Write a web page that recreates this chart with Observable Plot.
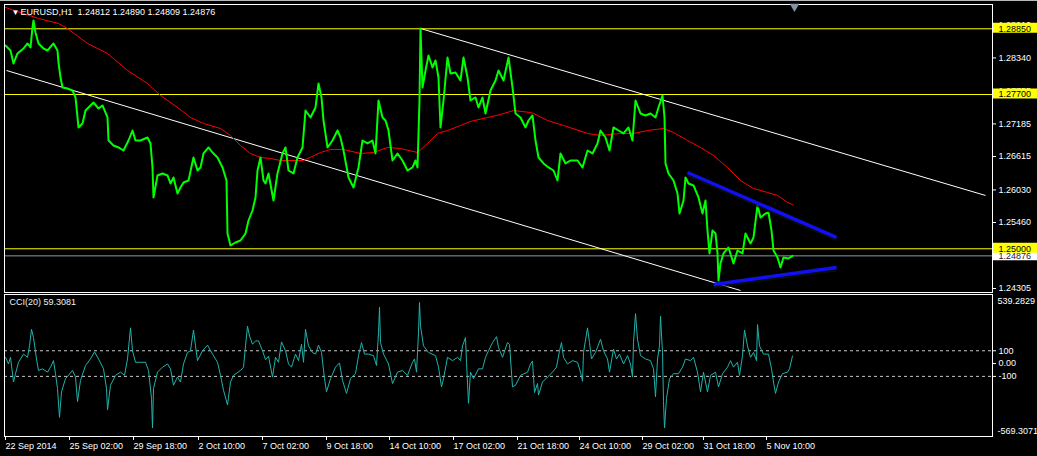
<!DOCTYPE html>
<html>
<head>
<meta charset="utf-8">
<script src="https://cdn.jsdelivr.net/npm/d3@7"></script>
<script src="https://cdn.jsdelivr.net/npm/@observablehq/plot@0.6"></script>
<style>
html, body { margin: 0; padding: 0; background: #000; }
#chart { position: relative; width: 1037px; height: 456px; background: #000; overflow: hidden; }
#chart svg { position: absolute; left: 0; display: block; }
#topline { position: absolute; left: 0; top: 0; width: 1037px; height: 1px; background: #b8b8b8; }
</style>
</head>
<body>
<div id="chart"><div id="topline"></div></div>
<script>
// ---------- header ----------
const symbol = "EURUSD,H1";
const ohlc = [1.24812, 1.24890, 1.24809, 1.24876];

// ---------- price (H1 bars, bar 0 = 22 Sep 2014) ----------
const priceBars = [0,5,8,12,18,22,25,27,28,30,33,38,42,48,52,53,55,57,62,67,70,73,77,80,83,88,93,97,102,103,108,113,118,123,127,130,135,142,145,147,148,152,157,162,165,168,172,175,178,183,188,192,195,198,203,207,212,217,221,222,225,230,235,240,243,247,250,252,255,258,260,263,268,272,277,280,283,288,292,297,300,305,310,313,316,318,322,327,332,335,338,343,348,353,357,362,367,370,373,377,380,383,387,392,397,402,407,410,412,414,415,417,420,423,427,430,433,435,438,442,445,450,455,458,462,465,470,473,477,480,485,490,493,498,503,507,510,515,520,523,527,530,533,538,543,548,552,555,560,565,572,577,582,587,592,595,600,604,608,613,618,623,627,630,635,640,645,650,653,657,659,660,663,668,672,674,678,680,683,688,693,697,700,702,704,707,710,712,713,715,718,723,728,732,737,740,745,748,752,755,760,763,766,768,772,775,778,783,787];
const priceClose = [1.28558,1.2847,1.28243,1.28418,1.28505,1.28593,1.28523,1.28873,1.28995,1.28785,1.28593,1.28505,1.2847,1.28593,1.2847,1.2826,1.27998,1.27823,1.27805,1.2777,1.27648,1.27123,1.27193,1.2742,1.27473,1.2756,1.27455,1.27508,1.27298,1.26895,1.26808,1.26773,1.2672,1.26895,1.2707,1.26895,1.26895,1.26948,1.26843,1.26423,1.25898,1.26283,1.26318,1.26283,1.26143,1.26248,1.25968,1.26073,1.2616,1.26195,1.26598,1.2637,1.26423,1.26668,1.26773,1.26685,1.26598,1.26423,1.26195,1.25268,1.25058,1.2511,1.25145,1.25268,1.25495,1.2567,1.25898,1.2637,1.26598,1.26195,1.26143,1.26318,1.25845,1.26318,1.26668,1.26773,1.2637,1.26318,1.26598,1.26773,1.2742,1.27298,1.27473,1.27893,1.27648,1.27245,1.26773,1.26895,1.2707,1.26948,1.2672,1.26248,1.26073,1.26423,1.26895,1.26843,1.26895,1.26668,1.27595,1.27298,1.27245,1.2707,1.26545,1.26668,1.26545,1.2637,1.26423,1.26545,1.26423,1.27595,1.28855,1.27823,1.2812,1.28383,1.28173,1.28295,1.27998,1.27123,1.27595,1.28348,1.28068,1.28085,1.27945,1.28348,1.27998,1.27595,1.27648,1.27473,1.27648,1.27368,1.2777,1.27945,1.2812,1.27945,1.28348,1.27823,1.27368,1.27298,1.27123,1.27245,1.27333,1.26895,1.26598,1.26493,1.26423,1.2637,1.26195,1.26668,1.26493,1.26545,1.26545,1.26423,1.2672,1.26668,1.26843,1.2707,1.26948,1.2672,1.27123,1.2707,1.27018,1.27123,1.26895,1.27595,1.27368,1.27333,1.27368,1.27298,1.27473,1.27683,1.27298,1.26493,1.26318,1.26195,1.25968,1.25618,1.25845,1.26248,1.26143,1.26108,1.25898,1.25618,1.25845,1.2532,1.24918,1.2532,1.25268,1.24918,1.24445,1.24743,1.24918,1.25023,1.24743,1.2497,1.24918,1.25268,1.25093,1.25198,1.25758,1.25548,1.25618,1.25635,1.2532,1.2497,1.24848,1.24673,1.24848,1.2483,1.24876];

// ---------- moving average (red) ----------
const maBars = [0,33,53,62,82,102,122,142,155,172,185,198,215,225,235,245,255,265,275,298,315,325,338,355,368,382,395,412,422,432,442,455,465,482,495,508,525,528,542,558,582,595,615,628,642,658,668,682,695,708,722,735,748,762,772,782,787];
const maValues = [1.29223,1.2903,1.28943,1.28855,1.28593,1.28418,1.2812,1.27893,1.27683,1.27473,1.27298,1.27193,1.27105,1.26983,1.26808,1.26668,1.26598,1.2658,1.26545,1.26545,1.26685,1.26738,1.26738,1.26668,1.26685,1.26773,1.26755,1.26685,1.26843,1.27018,1.2707,1.27158,1.27228,1.27298,1.2735,1.2742,1.27385,1.27368,1.27245,1.27158,1.27018,1.26983,1.27018,1.27018,1.2707,1.27105,1.27035,1.26895,1.26773,1.26633,1.26423,1.26195,1.26055,1.25985,1.25933,1.2581,1.25775];

// ---------- drawn objects ----------
// [bar1, price1, bar2, price2]
const channelLines = [[1, 1.2812, 735, 1.2427], [415, 1.28855, 980, 1.25933]];
const triangleLines = [[682, 1.26335, 831, 1.25198], [708, 1.24375, 831, 1.24673]];
const levelPrices = [1.28850, 1.27700, 1.25000];
const bidPrice = 1.24876;
const shiftBar = 789;

// ---------- price axis ----------
const priceDomain = [1.24235, 1.29275];
const priceTicks = [1.28910, 1.28340, 1.27755, 1.27185, 1.26615, 1.26030, 1.25460, 1.24890, 1.24305];

// ---------- CCI(20) ----------
const cciPeriod = 20;
const cciLast = 59.3081;
const cciRange = [-569.3071, 539.2829];
const cciLevels = [100, -100];
const cciTicks = [100, 0, -100];
const cciBars = [0,3,5,8,10,13,18,22,24,26,28,31,33,37,42,45,48,50,52,54,56,60,67,70,72,75,80,85,89,93,98,101,102,105,110,115,119,122,125,127,130,135,140,143,146,147,148,152,157,162,165,168,172,175,178,182,185,188,190,192,197,202,207,212,215,218,222,225,228,235,238,240,242,244,247,250,253,257,260,263,267,270,273,276,280,283,286,290,293,296,298,300,303,307,310,313,316,319,321,325,330,334,337,341,345,350,353,356,359,363,368,371,373,374,375,378,383,387,392,397,402,407,409,411,413,414,415,418,423,430,433,436,438,442,447,452,455,457,460,461,463,465,468,473,477,480,483,487,491,493,497,502,504,507,510,515,522,525,527,529,532,533,537,542,547,551,554,556,558,562,567,572,575,577,578,582,584,586,590,595,598,602,604,608,611,614,618,622,625,627,628,630,632,635,640,645,648,650,652,654,655,657,658,659,661,664,668,673,677,680,685,688,692,695,698,702,705,710,713,717,722,725,728,732,734,737,739,742,745,748,751,752,754,758,763,766,768,770,773,777,782,784,787];
const cciValues = [49,-3,49,-144,-79,10,74,49,138,267,203,36,-54,-41,-67,-28,23,-79,-195,-420,-220,-118,-54,-105,-297,-131,-15,36,92,36,-41,-195,-361,-169,-92,-67,-92,36,279,100,10,10,10,-54,-272,-503,-195,-67,-28,-3,-41,-169,-105,-144,-3,87,100,262,138,23,100,144,74,10,-92,-208,-323,-144,-92,-54,-28,138,292,215,151,177,177,100,30,58,-105,49,10,169,100,-3,-28,74,23,151,10,267,138,87,74,144,87,-118,-220,-118,-28,5,-131,-233,-118,-79,62,164,74,74,62,-15,241,441,164,74,-3,-156,-67,-54,-92,10,36,-67,241,477,292,138,87,62,-28,-182,-118,49,23,49,23,138,203,10,-310,-67,-118,-41,-41,49,100,164,210,126,49,164,151,-182,-169,-92,-67,-3,20,-226,-156,-246,-144,-105,-67,-28,100,164,49,-3,23,10,-67,-138,87,279,164,36,87,190,100,36,-67,113,36,74,-3,62,-3,-105,164,390,190,62,36,23,-41,-259,36,138,369,87,-297,-503,-272,-118,-79,-79,-28,36,23,49,-67,-220,-67,-220,-92,-67,-182,-79,-28,23,-28,10,-92,62,262,138,49,87,23,305,138,74,74,-41,-144,-233,-144,-79,-67,-41,59.3081];

// ---------- time axis ----------
const tickBars = [0, 64, 128, 193, 257, 321, 384, 448, 512, 574, 637, 698, 761];
const tickLabels = ["22 Sep 2014", "25 Sep 02:00", "29 Sep 18:00", "2 Oct 10:00", "7 Oct 02:00", "9 Oct 18:00", "14 Oct 10:00", "17 Oct 02:00", "21 Oct 18:00", "24 Oct 10:00", "29 Oct 02:00", "31 Oct 18:00", "5 Nov 10:00"];

// ---------- build ----------
const xDomain = [-1, 987];
const font = {background: "transparent", color: "#ffffff", fontFamily: "'Liberation Sans', Arial, sans-serif", fontSize: "9px"};
const priceData = priceBars.map((b, i) => ({bar: b, price: priceClose[i]}));
const maData = maBars.map((b, i) => ({bar: b, price: maValues[i]}));
const cciData = cciBars.map((b, i) => ({bar: b, cci: cciValues[i]}));
const boxX1 = 988, boxX2 = 1032;
const headerText = symbol + "\u00a0\u00a0" + ohlc.map(d => d.toFixed(5)).join(" ");

const main = Plot.plot({
  width: 1037, height: 294,
  marginTop: 4, marginBottom: 2, marginLeft: 4, marginRight: 45,
  x: {domain: xDomain, axis: null},
  y: {domain: priceDomain, axis: null},
  style: font,
  marks: [
    Plot.ruleY(levelPrices, {stroke: "#ffff00", strokeWidth: 1}),
    Plot.ruleY([bidPrice], {stroke: "#8e98a3", strokeWidth: 1}),
    Plot.link(channelLines, {x1: d => d[0], y1: d => d[1], x2: d => d[2], y2: d => d[3], stroke: "#ffffff", strokeWidth: 1}),
    Plot.line(maData, {x: "bar", y: "price", stroke: "#ff0000", strokeWidth: 1}),
    Plot.line(priceData, {x: "bar", y: "price", stroke: "#00ff00", strokeWidth: 2}),
    Plot.link(triangleLines, {x1: d => d[0], y1: d => d[1], x2: d => d[2], y2: d => d[3], stroke: "#101010", strokeWidth: 4, dy: 2, strokeOpacity: 0.7}),
    Plot.link(triangleLines, {x1: d => d[0], y1: d => d[1], x2: d => d[2], y2: d => d[3], stroke: "#1010f0", strokeWidth: 3.5}),
    Plot.frame({stroke: "#ffffff"}),
    Plot.axisY({anchor: "right", ticks: priceTicks, tickFormat: d => d.toFixed(5), tickSize: 3, tickPadding: 3, label: null}),
    Plot.ruleY([bidPrice], {x1: boxX1, x2: boxX2, stroke: "#ffffff", strokeWidth: 9}),
    Plot.text([bidPrice], {x: boxX1 + 5, y: d => d, text: d => d.toFixed(5), fill: "#1c2040", textAnchor: "start"}),
    Plot.ruleY(levelPrices, {x1: boxX1, x2: boxX2, stroke: "#ffff00", strokeWidth: 10, dy: -1}),
    Plot.text(levelPrices, {x: boxX1 + 5, y: d => d, text: d => d.toFixed(5), fill: "#000000", textAnchor: "start"}),
    Plot.text(["\u25bc"], {frameAnchor: "top-left", dx: 7, dy: 8, lineAnchor: "middle", fontSize: 8, fill: "#ffffff"}),
    Plot.text([headerText], {frameAnchor: "top-left", dx: 16, dy: 8, lineAnchor: "middle", textAnchor: "start", fill: "#ffffff"}),
    Plot.dot([shiftBar], {x: d => d, frameAnchor: "top", dy: 2, symbol: "triangle", r: 3.5, rotate: 180, fill: "#8494a5", stroke: "none"})
  ]
});

const tickMap = new Map(tickBars.map((b, i) => [b, tickLabels[i]]));
const cci = Plot.plot({
  width: 1037, height: 162,
  marginTop: 0, marginBottom: 20, marginLeft: 4, marginRight: 45,
  x: {domain: xDomain},
  y: {domain: cciRange},
  style: font,
  marks: [
    Plot.ruleY(cciLevels, {stroke: "#c8c8c8", strokeDasharray: "3,3"}),
    Plot.line(cciData, {x: "bar", y: "cci", stroke: "#20b2aa", strokeWidth: 1}),
    Plot.frame({stroke: "#ffffff"}),
    Plot.axisY({anchor: "right", ticks: cciTicks, tickFormat: d => d === 0 ? "0.00" : String(d), tickSize: 3, tickPadding: 3, label: null}),
    Plot.text([cciRange[1]], {frameAnchor: "top-right", dx: 5, dy: 3, textAnchor: "start", lineAnchor: "top", text: d => d.toFixed(4), fill: "#ffffff"}),
    Plot.text([cciRange[0]], {frameAnchor: "bottom-right", dx: 5, dy: -3, textAnchor: "start", lineAnchor: "bottom", text: d => d.toFixed(4), fill: "#ffffff"}),
    Plot.text([`CCI(${cciPeriod}) ${cciLast.toFixed(4)}`], {frameAnchor: "top-left", dx: 5, dy: 8, lineAnchor: "middle", textAnchor: "start", fill: "#e8f4f4"}),
    Plot.axisX({ticks: tickBars, tickFormat: d => tickMap.get(d), textAnchor: "start", tickSize: 4, tickPadding: 2, label: null})
  ]
});

const chart = document.getElementById("chart");
main.style.top = "0px";
cci.style.top = "294px";
chart.appendChild(main);
chart.appendChild(cci);
</script>
</body>
</html>
